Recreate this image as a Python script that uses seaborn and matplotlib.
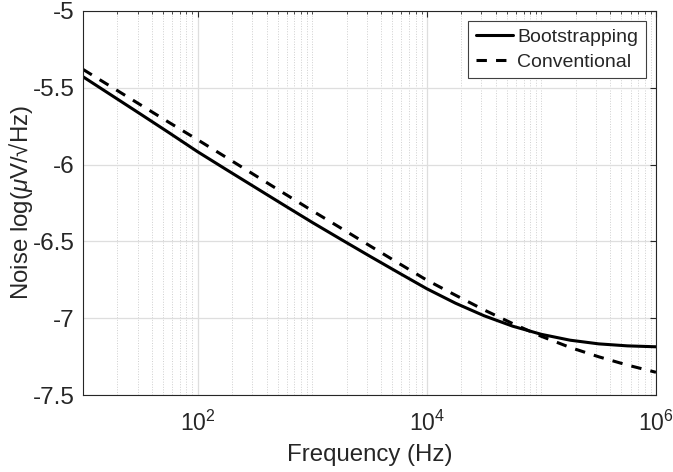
import numpy as np
import pandas as pd
import matplotlib
matplotlib.use("Agg")
import matplotlib.pyplot as plt
from matplotlib.ticker import FixedLocator, LogLocator, NullFormatter, NullLocator
import seaborn as sns

# values (quarter-decade steps)
freq = [10, 17.78, 31.62, 56.23, 100, 177.8, 316.2, 562.3, 1000, 1778, 3162, 5623,
        10000, 17783, 31623, 56234, 100000, 177828, 316228, 562341, 1000000]
bootstrapping = [-5.428, -5.549, -5.670, -5.792, -5.916, -6.032, -6.147, -6.262,
                 -6.376, -6.486, -6.595, -6.702, -6.808, -6.902, -6.984, -7.052,
                 -7.105, -7.143, -7.167, -7.180, -7.186]
conventional = [-5.380, -5.495, -5.610, -5.725, -5.838, -5.953, -6.069, -6.185,
                -6.300, -6.413, -6.527, -6.640, -6.752, -6.850, -6.946, -7.035,
                -7.118, -7.190, -7.251, -7.305, -7.352]

xticks = [1e2, 1e4, 1e6]
xticklabels = [r"$10^{2}$", r"$10^{4}$", r"$10^{6}$"]
yticks = [-7.5, -7, -6.5, -6, -5.5, -5]
yticklabels = ["-7.5", "-7", "-6.5", "-6", "-5.5", "-5"]

df = pd.DataFrame({"Frequency": freq, "Bootstrapping": bootstrapping,
                   "Conventional": conventional})

sns.set_style("white")
plt.rcParams["font.family"] = ["Liberation Sans", "DejaVu Sans"]
plt.rcParams["mathtext.fontset"] = "custom"
plt.rcParams["mathtext.rm"] = "Liberation Sans"
plt.rcParams["mathtext.it"] = "Liberation Sans:italic"
plt.rcParams["mathtext.bf"] = "Liberation Sans:bold"

ink = "#262626"

fig = plt.figure(figsize=(6.73, 4.72), dpi=100)
ax = fig.add_axes([0.1233, 0.1631, 0.8514, 0.8136])

sns.lineplot(data=df, x="Frequency", y="Bootstrapping", color="black", lw=2.2,
             label="Bootstrapping", ax=ax)
sns.lineplot(data=df, x="Frequency", y="Conventional", color="black", lw=2.2,
             label="Conventional", ax=ax)
ax.lines[1].set_dashes([3.4, 3.0])

ax.set_xscale("log")
ax.set_xlim(10, 1e6)
ax.set_ylim(-7.5, -5)

ax.xaxis.set_major_locator(FixedLocator(xticks))
ax.set_xticklabels(xticklabels)
ax.xaxis.set_minor_locator(LogLocator(base=10, subs=np.arange(1, 10), numticks=100))
ax.xaxis.set_minor_formatter(NullFormatter())
ax.set_yticks(yticks)
ax.set_yticklabels(yticklabels)
ax.yaxis.set_minor_locator(NullLocator())

ax.grid(True, which="major", color="#dedede", lw=0.9, ls="-")
ax.grid(True, which="minor", axis="x", color="#cfcfcf", lw=0.7, ls=":")
ax.set_axisbelow(True)

ax.tick_params(which="both", direction="in", top=True, right=True, colors=ink)
ax.tick_params(which="major", length=4.5, width=0.8)
ax.tick_params(which="minor", length=2.5, width=0.6)
ax.tick_params(axis="x", pad=11, labelsize=16.5)
ax.tick_params(axis="y", pad=6, labelsize=17.5)
for s in ax.spines.values():
    s.set_color(ink)
    s.set_linewidth(0.8)

ax.set_xlabel("Frequency (Hz)", fontsize=17.3, color=ink, labelpad=6)
ax.set_ylabel(r"Noise log($\mu$V/√Hz)", fontsize=17.3, color=ink)
ax.yaxis.set_label_coords(-0.084, 0.5)

leg = ax.legend(loc="upper right", fontsize=14, frameon=True, fancybox=False,
                framealpha=1, edgecolor="#404040", borderaxespad=0.5,
                handlelength=1.9, handletextpad=0.25, labelspacing=0.35,
                borderpad=0.4)
leg.get_frame().set_linewidth(0.8)

fig.savefig("out.png", dpi=100)
